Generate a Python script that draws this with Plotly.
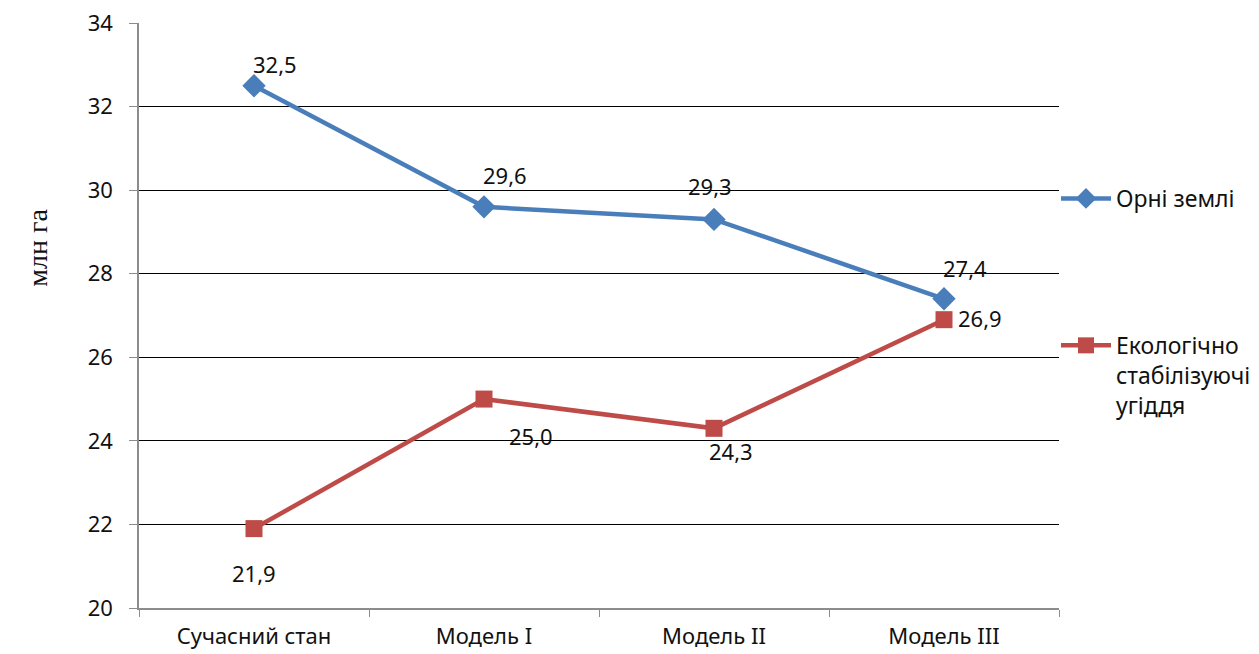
import plotly.graph_objects as go

# Land-use structure under different models, million hectares
categories = ["Сучасний стан", "Модель I", "Модель II", "Модель III"]
arable = [32.5, 29.6, 29.3, 27.4]
eco_stable = [21.9, 25.0, 24.3, 26.9]
series_names = ["Орні землі", "Екологічно<br>стабілізуючі<br>угіддя"]
y_ticks = [20, 22, 24, 26, 28, 30, 32, 34]

BLUE = "#4A7EBB"
RED = "#BE4B48"
FONT = "Noto Sans, sans-serif"
FS = 22

fig = go.Figure()
fig.add_trace(go.Scatter(
    x=categories, y=arable, name=series_names[0], mode="lines+markers",
    line=dict(color=BLUE, width=4.5),
    marker=dict(symbol="diamond", size=18, color=BLUE),
    legendgroup="a",
))
fig.add_trace(go.Scatter(
    x=categories, y=eco_stable, name=series_names[1], mode="lines+markers",
    line=dict(color=RED, width=4.5),
    marker=dict(symbol="square", size=17, color=RED),
    legendgroup="b",
))

def fmt(v):
    return f"{v:.1f}".replace(".", ",")

# label offsets (px) for each data point
arable_shift = [(21, 22), (21, 32), (-4, 33), (21, 31)]
eco_shift = [(0, -44), (47, -37), (17, -23), (36, 2)]
for cat, v, (dx, dy) in zip(categories, arable, arable_shift):
    fig.add_annotation(x=cat, y=v, text=fmt(v), showarrow=False,
                       xshift=dx, yshift=dy, font=dict(size=FS, color="#111"))
for cat, v, (dx, dy) in zip(categories, eco_stable, eco_shift):
    fig.add_annotation(x=cat, y=v, text=fmt(v), showarrow=False,
                       xshift=dx, yshift=dy, font=dict(size=FS, color="#111"))

fig.add_annotation(xref="paper", yref="paper", x=-119 / 920, y=0.615,
                   text="млн га", textangle=-90, showarrow=False,
                   font=dict(family="Liberation Serif", size=28, color="#111"))

fig.update_layout(
    width=1259, height=654,
    margin=dict(l=139, r=200, t=23, b=46, autoexpand=False),
    paper_bgcolor="white", plot_bgcolor="white",
    font=dict(family=FONT, size=FS, color="#111"),
    showlegend=True,
    legend=dict(xref="container", yref="container",
                x=1056 / 1259, xanchor="left", y=1 - 177 / 654, yanchor="top",
                traceorder="grouped", tracegroupgap=114, valign="top",
                font=dict(size=23), itemwidth=50,
                bgcolor="rgba(0,0,0,0)"),
    xaxis=dict(type="category", showgrid=False, showline=True,
               linecolor="#8C8C8C", linewidth=1.5, ticks="outside",
               tickson="boundaries", ticklen=7, tickcolor="#8C8C8C",
               range=[-0.5, 3.5], zeroline=False, ticklabelstandoff=8),
    yaxis=dict(range=[20, 34], tickvals=y_ticks, showgrid=True,
               gridcolor="#000", gridwidth=1, showline=True,
               linecolor="#8C8C8C", linewidth=1.5, ticks="outside",
               ticklen=8, tickcolor="#8C8C8C", zeroline=False,
               ticklabelstandoff=12),
)

fig.write_html("out.html")
